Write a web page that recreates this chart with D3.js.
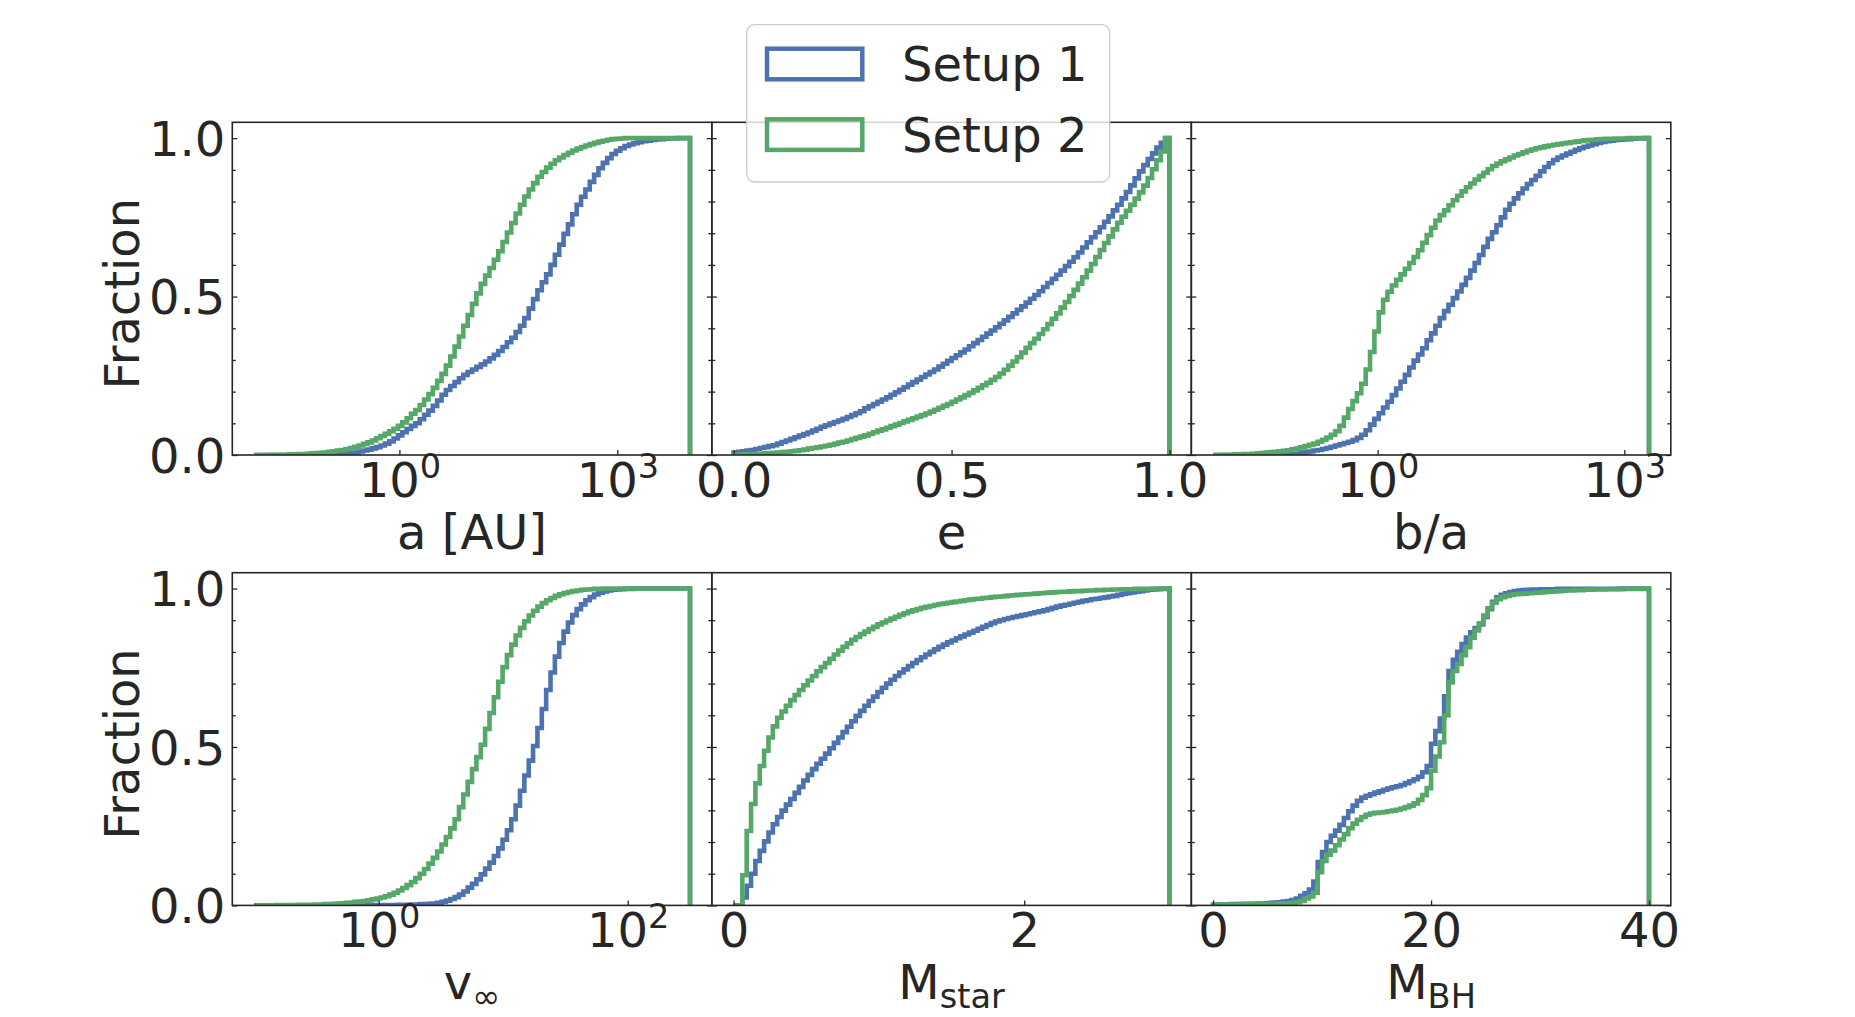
<!DOCTYPE html>
<html>
<head>
<meta charset="utf-8">
<script src="https://cdn.jsdelivr.net/npm/d3@7"></script>
<style>
  body { margin: 0; background: #fff; }
  svg { display: block; }
  text { font-family: "DejaVu Sans", sans-serif; fill: #262626; }
</style>
</head>
<body>
<svg id="chart" width="1855" height="1017"></svg>
<script>
// cumulative fractions, 100 bins per panel
var cdfA1 = [0,0,0,0,0,0,0,0,0,0,
  0,0,0,0,0,0,0.001,0.001,0.002,0.002,
  0.003,0.004,0.006,0.008,0.011,0.014,0.017,0.021,0.025,0.030,
  0.036,0.043,0.052,0.062,0.072,0.082,0.092,0.100,0.113,0.127,
  0.140,0.155,0.172,0.190,0.205,0.218,0.230,0.242,0.253,0.262,
  0.270,0.278,0.286,0.295,0.305,0.316,0.328,0.341,0.356,0.370,
  0.388,0.408,0.432,0.462,0.492,0.520,0.545,0.570,0.600,0.632,
  0.664,0.698,0.728,0.760,0.790,0.815,0.838,0.862,0.884,0.905,
  0.922,0.937,0.950,0.960,0.968,0.975,0.980,0.984,0.987,0.990,
  0.992,0.994,0.996,0.997,0.998,0.999,0.999,1,1,1]
var cdfA2 = [0,0,0,0,0.001,0.001,0.001,0.001,0.002,0.002,
  0.003,0.003,0.004,0.005,0.006,0.007,0.008,0.010,0.012,0.014,
  0.016,0.019,0.022,0.026,0.030,0.035,0.040,0.046,0.053,0.060,
  0.067,0.075,0.083,0.092,0.103,0.116,0.130,0.142,0.158,0.175,
  0.192,0.212,0.234,0.256,0.282,0.311,0.342,0.374,0.408,0.442,
  0.477,0.510,0.540,0.566,0.590,0.616,0.643,0.672,0.702,0.732,
  0.762,0.790,0.816,0.838,0.858,0.878,0.893,0.907,0.919,0.930,
  0.939,0.947,0.954,0.961,0.967,0.972,0.977,0.981,0.985,0.989,
  0.992,0.995,0.997,0.998,0.999,1,1,1,1,1,
  1,1,1,1,1,1,1,1,1,1]

var cdfE1 = [0.008,0.010,0.012,0.014,0.016,0.019,0.022,0.025,0.028,0.031,
  0.036,0.041,0.046,0.051,0.056,0.061,0.066,0.071,0.077,0.083,
  0.089,0.094,0.099,0.104,0.109,0.114,0.120,0.126,0.132,0.138,
  0.147,0.154,0.161,0.168,0.175,0.182,0.190,0.198,0.206,0.214,
  0.222,0.230,0.238,0.246,0.254,0.262,0.270,0.279,0.288,0.297,
  0.306,0.315,0.324,0.333,0.343,0.353,0.363,0.373,0.383,0.393,
  0.403,0.414,0.425,0.436,0.447,0.458,0.469,0.481,0.493,0.505,
  0.517,0.530,0.543,0.556,0.569,0.582,0.596,0.610,0.624,0.639,
  0.655,0.671,0.687,0.703,0.719,0.736,0.753,0.772,0.790,0.810,
  0.830,0.851,0.873,0.895,0.915,0.934,0.952,0.970,0.985,1]
var cdfE2 = [0.001,0.001,0.002,0.002,0.003,0.003,0.004,0.005,0.006,0.007,
  0.008,0.009,0.010,0.012,0.013,0.015,0.017,0.020,0.022,0.024,
  0.027,0.029,0.032,0.035,0.039,0.042,0.046,0.050,0.054,0.058,
  0.062,0.067,0.072,0.077,0.081,0.086,0.091,0.096,0.101,0.106,
  0.111,0.116,0.121,0.126,0.131,0.137,0.143,0.149,0.155,0.161,
  0.168,0.175,0.182,0.189,0.196,0.204,0.212,0.220,0.228,0.237,
  0.246,0.257,0.269,0.282,0.295,0.309,0.323,0.338,0.353,0.367,
  0.382,0.397,0.413,0.430,0.447,0.465,0.483,0.502,0.521,0.541,
  0.561,0.582,0.603,0.625,0.647,0.669,0.690,0.712,0.733,0.752,
  0.771,0.790,0.809,0.829,0.850,0.874,0.902,0.930,0.958,1]

var cdfBA1 = [0,0,0,0,0,0,0,0,0,0,
  0,0,0,0,0,0.001,0.001,0.001,0.002,0.004,
  0.006,0.009,0.011,0.014,0.016,0.019,0.022,0.026,0.030,0.034,
  0.038,0.042,0.047,0.054,0.064,0.078,0.096,0.114,0.132,0.150,
  0.168,0.189,0.210,0.231,0.253,0.276,0.298,0.317,0.337,0.362,
  0.384,0.408,0.432,0.454,0.474,0.495,0.516,0.537,0.559,0.582,
  0.606,0.631,0.657,0.682,0.703,0.725,0.750,0.774,0.793,0.810,
  0.826,0.841,0.855,0.868,0.881,0.895,0.909,0.921,0.931,0.939,
  0.945,0.951,0.957,0.963,0.968,0.973,0.977,0.981,0.985,0.988,
  0.990,0.992,0.994,0.995,0.996,0.997,0.998,0.999,0.999,1]
var cdfBA2 = [0,0,0.001,0.001,0.001,0.002,0.002,0.003,0.003,0.004,
  0.005,0.006,0.008,0.009,0.010,0.012,0.013,0.015,0.018,0.020,
  0.024,0.028,0.032,0.036,0.042,0.048,0.055,0.064,0.075,0.092,
  0.118,0.145,0.170,0.195,0.225,0.270,0.325,0.390,0.450,0.490,
  0.515,0.535,0.553,0.570,0.588,0.606,0.625,0.646,0.670,0.694,
  0.717,0.740,0.757,0.772,0.788,0.804,0.818,0.832,0.845,0.857,
  0.869,0.880,0.891,0.902,0.912,0.920,0.927,0.933,0.939,0.945,
  0.950,0.955,0.960,0.964,0.968,0.971,0.974,0.977,0.979,0.981,
  0.983,0.985,0.987,0.989,0.991,0.993,0.994,0.995,0.996,0.997,
  0.998,0.998,0.999,0.999,0.999,1,1,1,1,1]

var cdfV1 = [0,0,0,0,0,0,0,0,0,0,
  0,0,0,0,0,0,0,0,0,0,
  0,0,0,0,0,0,0.001,0.001,0.001,0.001,
  0.001,0.001,0.001,0.002,0.002,0.002,0.003,0.003,0.004,0.004,
  0.005,0.006,0.008,0.011,0.015,0.020,0.026,0.034,0.044,0.056,
  0.068,0.082,0.098,0.116,0.135,0.156,0.180,0.207,0.237,0.272,
  0.315,0.362,0.410,0.457,0.503,0.560,0.620,0.680,0.735,0.785,
  0.828,0.864,0.893,0.916,0.935,0.950,0.963,0.973,0.981,0.987,
  0.991,0.994,0.996,0.997,0.998,0.999,0.999,1,1,1,
  1,1,1,1,1,1,1,1,1,1]
var cdfV2 = [0,0,0,0,0,0.001,0.001,0.001,0.001,0.001,
  0.002,0.002,0.002,0.002,0.003,0.003,0.004,0.004,0.005,0.006,
  0.007,0.008,0.009,0.011,0.012,0.014,0.016,0.019,0.022,0.025,
  0.029,0.034,0.040,0.047,0.055,0.064,0.074,0.086,0.100,0.115,
  0.132,0.150,0.170,0.192,0.216,0.243,0.272,0.310,0.350,0.390,
  0.430,0.468,0.507,0.557,0.607,0.657,0.706,0.752,0.790,0.823,
  0.852,0.876,0.897,0.915,0.930,0.943,0.954,0.963,0.970,0.977,
  0.982,0.986,0.989,0.992,0.994,0.996,0.997,0.998,0.999,0.999,
  1,1,1,1,1,1,1,1,1,1,
  1,1,1,1,1,1,1,1,1,1]

var cdfMs1 = [0,0,0.025,0.062,0.100,0.140,0.172,0.202,0.230,0.256,
  0.279,0.299,0.318,0.336,0.355,0.374,0.394,0.412,0.430,0.447,
  0.463,0.479,0.496,0.513,0.530,0.547,0.564,0.581,0.598,0.614,
  0.630,0.645,0.659,0.673,0.687,0.700,0.712,0.724,0.735,0.745,
  0.755,0.765,0.774,0.783,0.792,0.800,0.808,0.816,0.823,0.830,
  0.836,0.843,0.849,0.855,0.861,0.867,0.873,0.879,0.885,0.891,
  0.896,0.900,0.904,0.907,0.910,0.913,0.916,0.919,0.922,0.925,
  0.928,0.931,0.935,0.939,0.943,0.946,0.949,0.952,0.955,0.958,
  0.961,0.963,0.966,0.968,0.970,0.972,0.975,0.977,0.980,0.983,
  0.985,0.988,0.990,0.992,0.994,0.996,0.997,0.998,0.999,1]
var cdfMs2 = [0,0,0.095,0.235,0.320,0.385,0.440,0.488,0.530,0.565,
  0.592,0.612,0.630,0.648,0.664,0.680,0.695,0.710,0.724,0.739,
  0.752,0.765,0.778,0.792,0.804,0.816,0.827,0.838,0.847,0.856,
  0.864,0.872,0.879,0.887,0.893,0.899,0.905,0.911,0.917,0.922,
  0.927,0.931,0.935,0.939,0.942,0.945,0.948,0.951,0.953,0.955,
  0.957,0.959,0.961,0.963,0.965,0.967,0.968,0.970,0.971,0.973,
  0.974,0.975,0.976,0.978,0.979,0.980,0.981,0.982,0.983,0.984,
  0.985,0.986,0.987,0.988,0.989,0.990,0.990,0.991,0.992,0.992,
  0.993,0.994,0.994,0.995,0.995,0.996,0.996,0.997,0.997,0.998,
  0.998,0.998,0.999,0.999,0.999,0.999,1,1,1,1]

var cdfMbh1 = [0.002,0.003,0.003,0.003,0.004,0.004,0.004,0.005,0.005,0.005,
  0.006,0.006,0.007,0.008,0.009,0.010,0.012,0.014,0.017,0.022,
  0.030,0.038,0.050,0.075,0.137,0.168,0.200,0.220,0.236,0.254,
  0.276,0.297,0.315,0.330,0.340,0.346,0.351,0.356,0.360,0.365,
  0.369,0.373,0.376,0.380,0.386,0.392,0.398,0.406,0.420,0.440,
  0.510,0.550,0.590,0.660,0.740,0.775,0.800,0.825,0.845,0.862,
  0.875,0.887,0.910,0.935,0.958,0.972,0.980,0.985,0.989,0.992,
  0.994,0.995,0.996,0.997,0.997,0.998,0.998,0.998,0.998,0.999,
  0.999,0.999,0.999,0.999,0.999,0.999,0.999,0.999,0.999,0.999,
  0.999,0.999,0.999,1,1,1,1,1,1,1]
var cdfMbh2 = [0.002,0.002,0.003,0.003,0.003,0.003,0.004,0.004,0.004,0.004,
  0.004,0.005,0.005,0.005,0.006,0.006,0.007,0.007,0.008,0.010,
  0.014,0.022,0.028,0.040,0.105,0.140,0.160,0.173,0.190,0.208,
  0.225,0.244,0.258,0.270,0.279,0.286,0.290,0.292,0.293,0.295,
  0.297,0.299,0.302,0.306,0.310,0.315,0.322,0.333,0.348,0.370,
  0.425,0.470,0.515,0.600,0.704,0.740,0.762,0.790,0.815,0.845,
  0.868,0.890,0.915,0.938,0.955,0.966,0.973,0.977,0.980,0.982,
  0.983,0.984,0.985,0.986,0.987,0.988,0.989,0.990,0.991,0.992,
  0.993,0.994,0.994,0.995,0.995,0.996,0.996,0.997,0.997,0.997,
  0.998,0.998,0.998,0.998,0.999,0.999,0.999,0.999,0.999,1]

// bin ranges of each quantity
var aRange = [0.01, 10000]
var eRange = [0, 1]
var baRange = [0.01, 1995]
var vRange = [0.1, 316.2]
var msRange = [0, 3]
var mbhRange = [0, 40]

// ticks
var aTicks = [1, 1000]
var eTicks = [0, 0.5, 1]
var baTicks = [1, 1000]
var vTicks = [1, 100]
var msTicks = [0, 2]
var mbhTicks = [0, 20, 40]
var yTicks = [0, 0.5, 1]
var yMinor = [0.1, 0.2, 0.3, 0.4, 0.6, 0.7, 0.8, 0.9]

var labelMain = ['a [AU]', 'e', 'b/a', 'v', 'M', 'M']
var labelSub = ['', '', '', '\u221e', 'star', 'BH']
var legendLabels = ['Setup 1', 'Setup 2']
var colors = ['#4c72b0', '#55a868']

var panels = [
  { s1: cdfA1, s2: cdfA2, range: aRange, log: true, ticks: aTicks },
  { s1: cdfE1, s2: cdfE2, range: eRange, log: false, ticks: eTicks, fmt: '.1f' },
  { s1: cdfBA1, s2: cdfBA2, range: baRange, log: true, ticks: baTicks },
  { s1: cdfV1, s2: cdfV2, range: vRange, log: true, ticks: vTicks },
  { s1: cdfMs1, s2: cdfMs2, range: msRange, log: false, ticks: msTicks, fmt: 'd' },
  { s1: cdfMbh1, s2: cdfMbh2, range: mbhRange, log: false, ticks: mbhTicks, fmt: 'd' }
]

var svg = d3.select('#chart')
svg.append('rect').attr('width', 1855).attr('height', 1017).attr('fill', '#fff')

var W = 479.5, H = 332.7
var left = 232.3
var tops = [122.3, 572.7]
var fs = 48, fsSmall = 33.6
var ink = '#262626'

panels.forEach(function (p, i) {
  var col = i % 3, row = Math.floor(i / 3)
  var g = svg.append('g').attr('transform', 'translate(' + (left + col * W) + ',' + tops[row] + ')')

  var x, m
  if (p.log) {
    var l0 = Math.log10(p.range[0]), l1 = Math.log10(p.range[1])
    m = (l1 - l0) * 0.05
    x = d3.scaleLog().domain([Math.pow(10, l0 - m), Math.pow(10, l1 + m)]).range([0, W])
  } else {
    m = (p.range[1] - p.range[0]) * 0.05
    x = d3.scaleLinear().domain([p.range[0] - m, p.range[1] + m]).range([0, W])
  }
  var y = d3.scaleLinear().domain([0, 1.05]).range([H, 0])

  var n = p.s1.length
  var edges = d3.range(n + 1).map(function (k) {
    return p.log
      ? p.range[0] * Math.pow(p.range[1] / p.range[0], k / n)
      : p.range[0] + (p.range[1] - p.range[0]) * k / n
  })

  var clipId = 'clip' + i
  g.append('clipPath').attr('id', clipId)
    .append('rect').attr('width', W).attr('height', H)

  var line = d3.line()
    .x(function (d) { return x(d[0]) })
    .y(function (d) { return y(d[1]) })

  ;[p.s1, p.s2].forEach(function (vals, j) {
    var pts = [[edges[0], 0]]
    vals.forEach(function (v, k) { pts.push([edges[k], v], [edges[k + 1], v]) })
    pts.push([edges[n], 0])
    g.append('path')
      .attr('clip-path', 'url(#' + clipId + ')')
      .attr('d', line(pts))
      .attr('fill', 'none')
      .attr('stroke', colors[j])
      .attr('stroke-width', 4.6)
      .attr('stroke-linejoin', 'miter')
  })

  // x axis
  var xa = g.append('g').attr('transform', 'translate(0,' + H + ')')
    .call(d3.axisBottom(x).tickValues(p.ticks).tickSizeInner(-5).tickSizeOuter(0).tickPadding(8)
      .tickFormat(p.log ? function (d) { return '' } : d3.format(p.fmt)))
  if (p.log) {
    xa.selectAll('.tick text').each(function (d) {
      var t = d3.select(this)
      t.append('tspan').text('10')
      t.append('tspan').attr('font-size', fsSmall).attr('dy', -19).text(Math.round(Math.log10(d)))
    })
  }

  // y axes: left and right, major and minor, all pointing inward
  var yl = g.append('g')
    .call(d3.axisLeft(y).tickValues(yTicks).tickSizeInner(-5).tickSizeOuter(0).tickPadding(7)
      .tickFormat(col === 0 ? d3.format('.1f') : function () { return '' }))
  yl.selectAll('.tick text').attr('dy', '0.36em')
  var ylm = g.append('g')
    .call(d3.axisLeft(y).tickValues(yMinor).tickSizeInner(-3.5).tickSizeOuter(0).tickFormat(''))
  var yr = g.append('g').attr('transform', 'translate(' + W + ',0)')
    .call(d3.axisRight(y).tickValues(yTicks).tickSizeInner(-5).tickSizeOuter(0).tickFormat(''))
  var yrm = g.append('g').attr('transform', 'translate(' + W + ',0)')
    .call(d3.axisRight(y).tickValues(yMinor).tickSizeInner(-3.5).tickSizeOuter(0).tickFormat(''))

  ;[xa, yl, ylm, yr, yrm].forEach(function (a) {
    a.select('.domain').remove()
    a.attr('font-size', fs).attr('font-family', '"DejaVu Sans", sans-serif').style('color', ink)
    a.selectAll('.tick line').attr('stroke-width', 1.3)
  })

  // spines
  g.append('rect').attr('width', W).attr('height', H)
    .attr('fill', 'none').attr('stroke', ink).attr('stroke-width', 1.6)

  // x label
  var lab = g.append('text').attr('x', W / 2).attr('y', H + 94)
    .attr('text-anchor', 'middle').attr('font-size', fs)
  lab.append('tspan').text(labelMain[i])
  if (labelSub[i]) lab.append('tspan').attr('font-size', fsSmall).attr('dy', 9).text(labelSub[i])

  if (col === 0) {
    g.append('text')
      .attr('transform', 'translate(' + (139 - left) + ',' + (H / 2 + 5) + ') rotate(-90)')
      .attr('text-anchor', 'middle').attr('font-size', fs)
      .text('Fraction')
  }
})

// legend
var lg = svg.append('g')
lg.append('rect').attr('x', 746.7).attr('y', 24.7).attr('width', 363).attr('height', 157.3)
  .attr('rx', 8).attr('fill', '#fff').attr('fill-opacity', 0.8)
  .attr('stroke', '#cccccc').attr('stroke-width', 1.3)
legendLabels.forEach(function (name, j) {
  lg.append('rect').attr('x', 767).attr('y', 48.7 + j * 70.6).attr('width', 95.3).attr('height', 30.6)
    .attr('fill', 'none').attr('stroke', colors[j]).attr('stroke-width', 4.5)
  lg.append('text').attr('x', 902).attr('y', 81 + j * 71).attr('font-size', fs).text(name)
})
</script>
</body>
</html>
